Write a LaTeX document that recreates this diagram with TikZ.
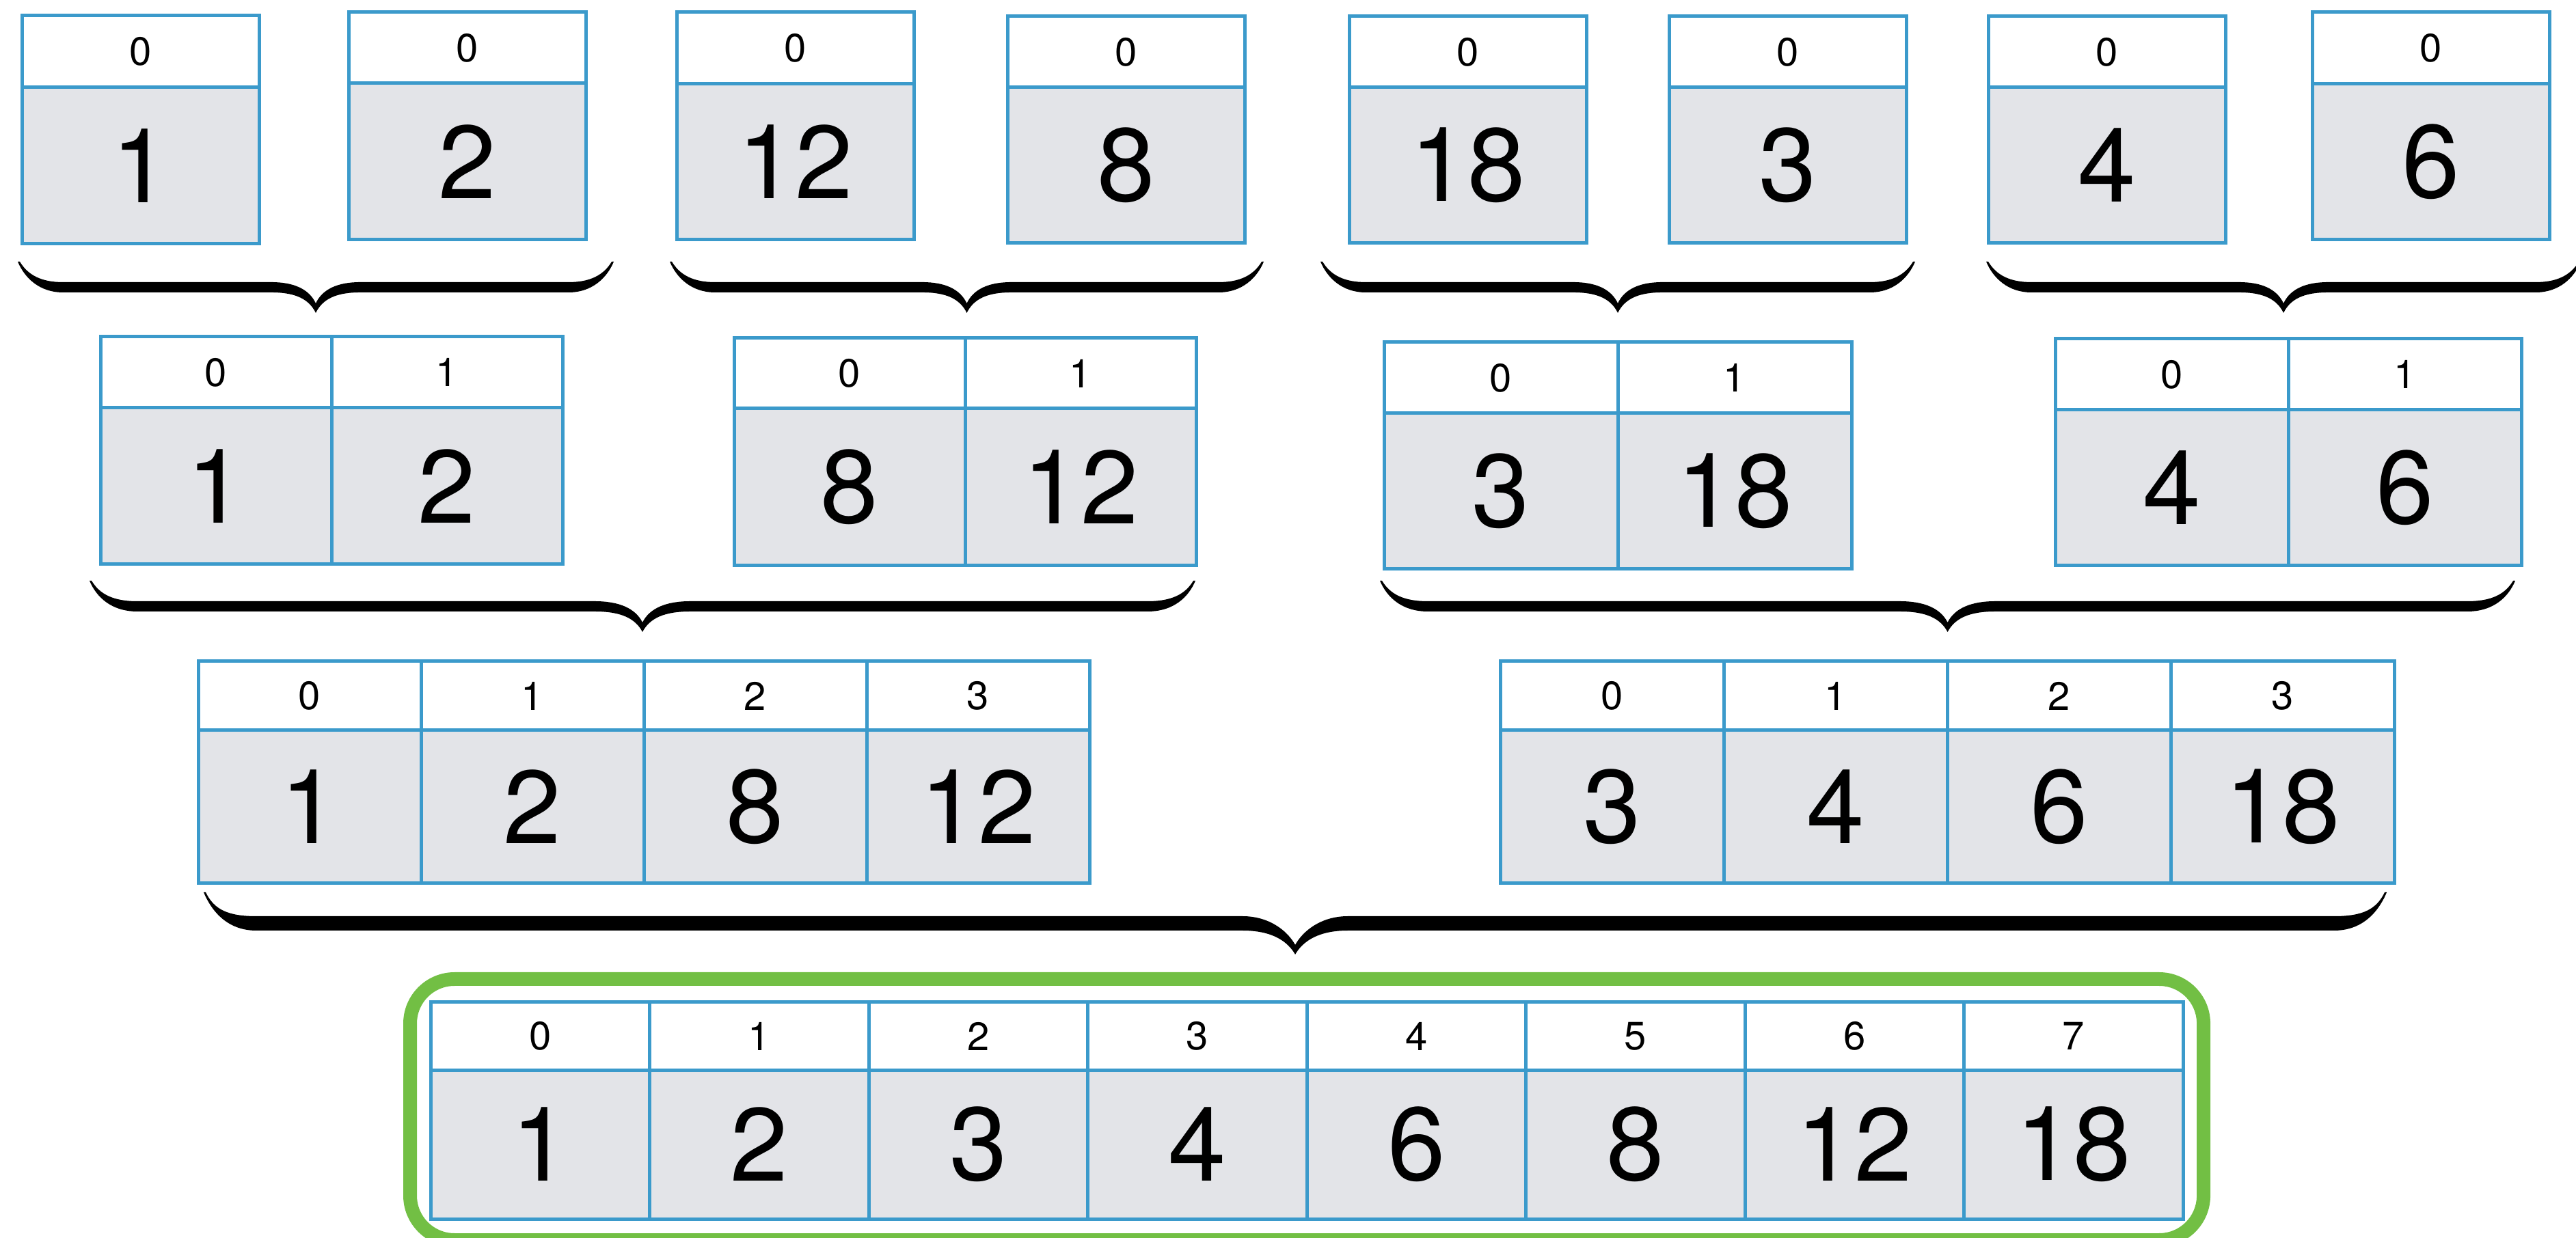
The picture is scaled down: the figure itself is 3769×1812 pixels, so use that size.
\documentclass[tikz,border=0pt]{standalone}
\usepackage{fontspec}
\setmainfont{TeX Gyre Heros}
\definecolor{cellblue}{HTML}{3B9ACB}
\definecolor{cellgray}{HTML}{E3E4E8}
\definecolor{okgreen}{HTML}{72BF44}
\tikzset{
  hdr/.style={draw=cellblue, line width=0.5pt, fill=white, inner sep=0pt,
    font=\fontsize{5.8}{7}\selectfont},
  valc/.style={draw=cellblue, line width=0.5pt, fill=cellgray, inner sep=0pt,
    font=\fontsize{15.2}{18}\selectfont},
  bracefill/.style={fill=black},
  result/.style={draw=okgreen, line width=2pt, rounded corners=6.5pt}
}
% #1 name, #2 left x, #3 top y, #4 divider y, #5 bottom y, #6 cell width, #7 values
\newcommand\arr[7]{%
  \foreach \v [count=\i from 0] in {#7} {
    \node[hdr, minimum width={#6*0.1pt}, minimum height={(#4-#3)*0.1pt}]
      (#1h\i) at ({#2+#6*(\i+0.5)},{(#3+#4)/2}) {\i};
    \node[valc, minimum width={#6*0.1pt}, minimum height={(#5-#4)*0.1pt}]
      (#1v\i) at ({#2+#6*(\i+0.5)},{(#4+#5)/2}) {\v};
  }
}
% #1 left, #2 right, #3 end top y, #4 bar top, #5 bar bottom, #6 tip y, #7 end curl width, #8 centre curl half width
\newcommand\mybrace[8]{%
  \pgfmathsetmacro\bC{(#1+#2)/2}
  \fill[bracefill] (#1,#3) .. controls (#1+10,#3+24) and (#1+32,#5) .. (#1+#7,#5)
    -- (\bC-#8,#5) .. controls (\bC-#8*0.45,#5) and (\bC-#8*0.15,#6-20) .. (\bC,#6)
    .. controls (\bC+#8*0.15,#6-20) and (\bC+#8*0.45,#5) .. (\bC+#8,#5)
    -- (#2-#7,#5) .. controls (#2-32,#5) and (#2-10,#3+24) .. (#2,#3)
    -- (#2-3,#3) .. controls (#2-15,#4-10) and (#2-35,#4) .. (#2-#7,#4)
    -- (\bC+#8,#4) .. controls (\bC+#8*0.5,#4) and (\bC+#8*0.15,#6-35) .. (\bC,#6-14)
    .. controls (\bC-#8*0.15,#6-35) and (\bC-#8*0.5,#4) .. (\bC-#8,#4)
    -- (#1+#7,#4) .. controls (#1+35,#4) and (#1+15,#4-10) .. (#1+3,#3) -- cycle;
}
\begin{document}
\begin{tikzpicture}[x=0.1pt,y=-0.1pt]
\useasboundingbox (0,0) rectangle (3769,1812);
% row 1
\arr{ra}{32}{23}{128}{357}{347}{1}
\arr{rb}{510}{18}{122}{351}{347}{2}
\arr{rc}{990}{18}{123}{351}{347}{12}
\arr{rd}{1474}{24}{128}{356}{347}{8}
\arr{re}{1974}{24}{128}{356}{347}{18}
\arr{rf}{2442}{24}{128}{356}{347}{3}
\arr{rg}{2909}{24}{128}{356}{347}{4}
\arr{rh}{3383}{18}{123}{351}{347}{6}
\mybrace{26}{898}{383}{413}{428}{458}{66}{65}
\mybrace{980}{1849}{383}{413}{428}{458}{66}{65}
\mybrace{1932}{2802}{383}{413}{428}{458}{66}{65}
\mybrace{2906}{3776}{383}{413}{428}{458}{66}{65}
% row 2
\arr{sa}{147}{493}{597}{826}{338}{1,2}
\arr{sb}{1074}{495}{598}{828}{338}{8,12}
\arr{sc}{2025}{501}{605}{833}{342}{3,18}
\arr{sd}{3007}{496}{600}{828}{341}{4,6}
\mybrace{131}{1749}{850}{880}{895}{925}{70}{70}
\mybrace{2019}{3680}{850}{880}{895}{925}{70}{70}
% row 3
\arr{ta}{290}{968}{1069}{1293}{326}{1,2,8,12}
\arr{tb}{2195}{968}{1069}{1293}{327}{3,4,6,18}
\mybrace{298}{3492}{1306}{1341}{1362}{1397}{77}{77}
% row 4
\draw[result] (600,1433) rectangle (3224,1815);
\arr{ua}{630}{1467}{1566}{1784}{320.5}{1,2,3,4,6,8,12,18}
\end{tikzpicture}
\end{document}
